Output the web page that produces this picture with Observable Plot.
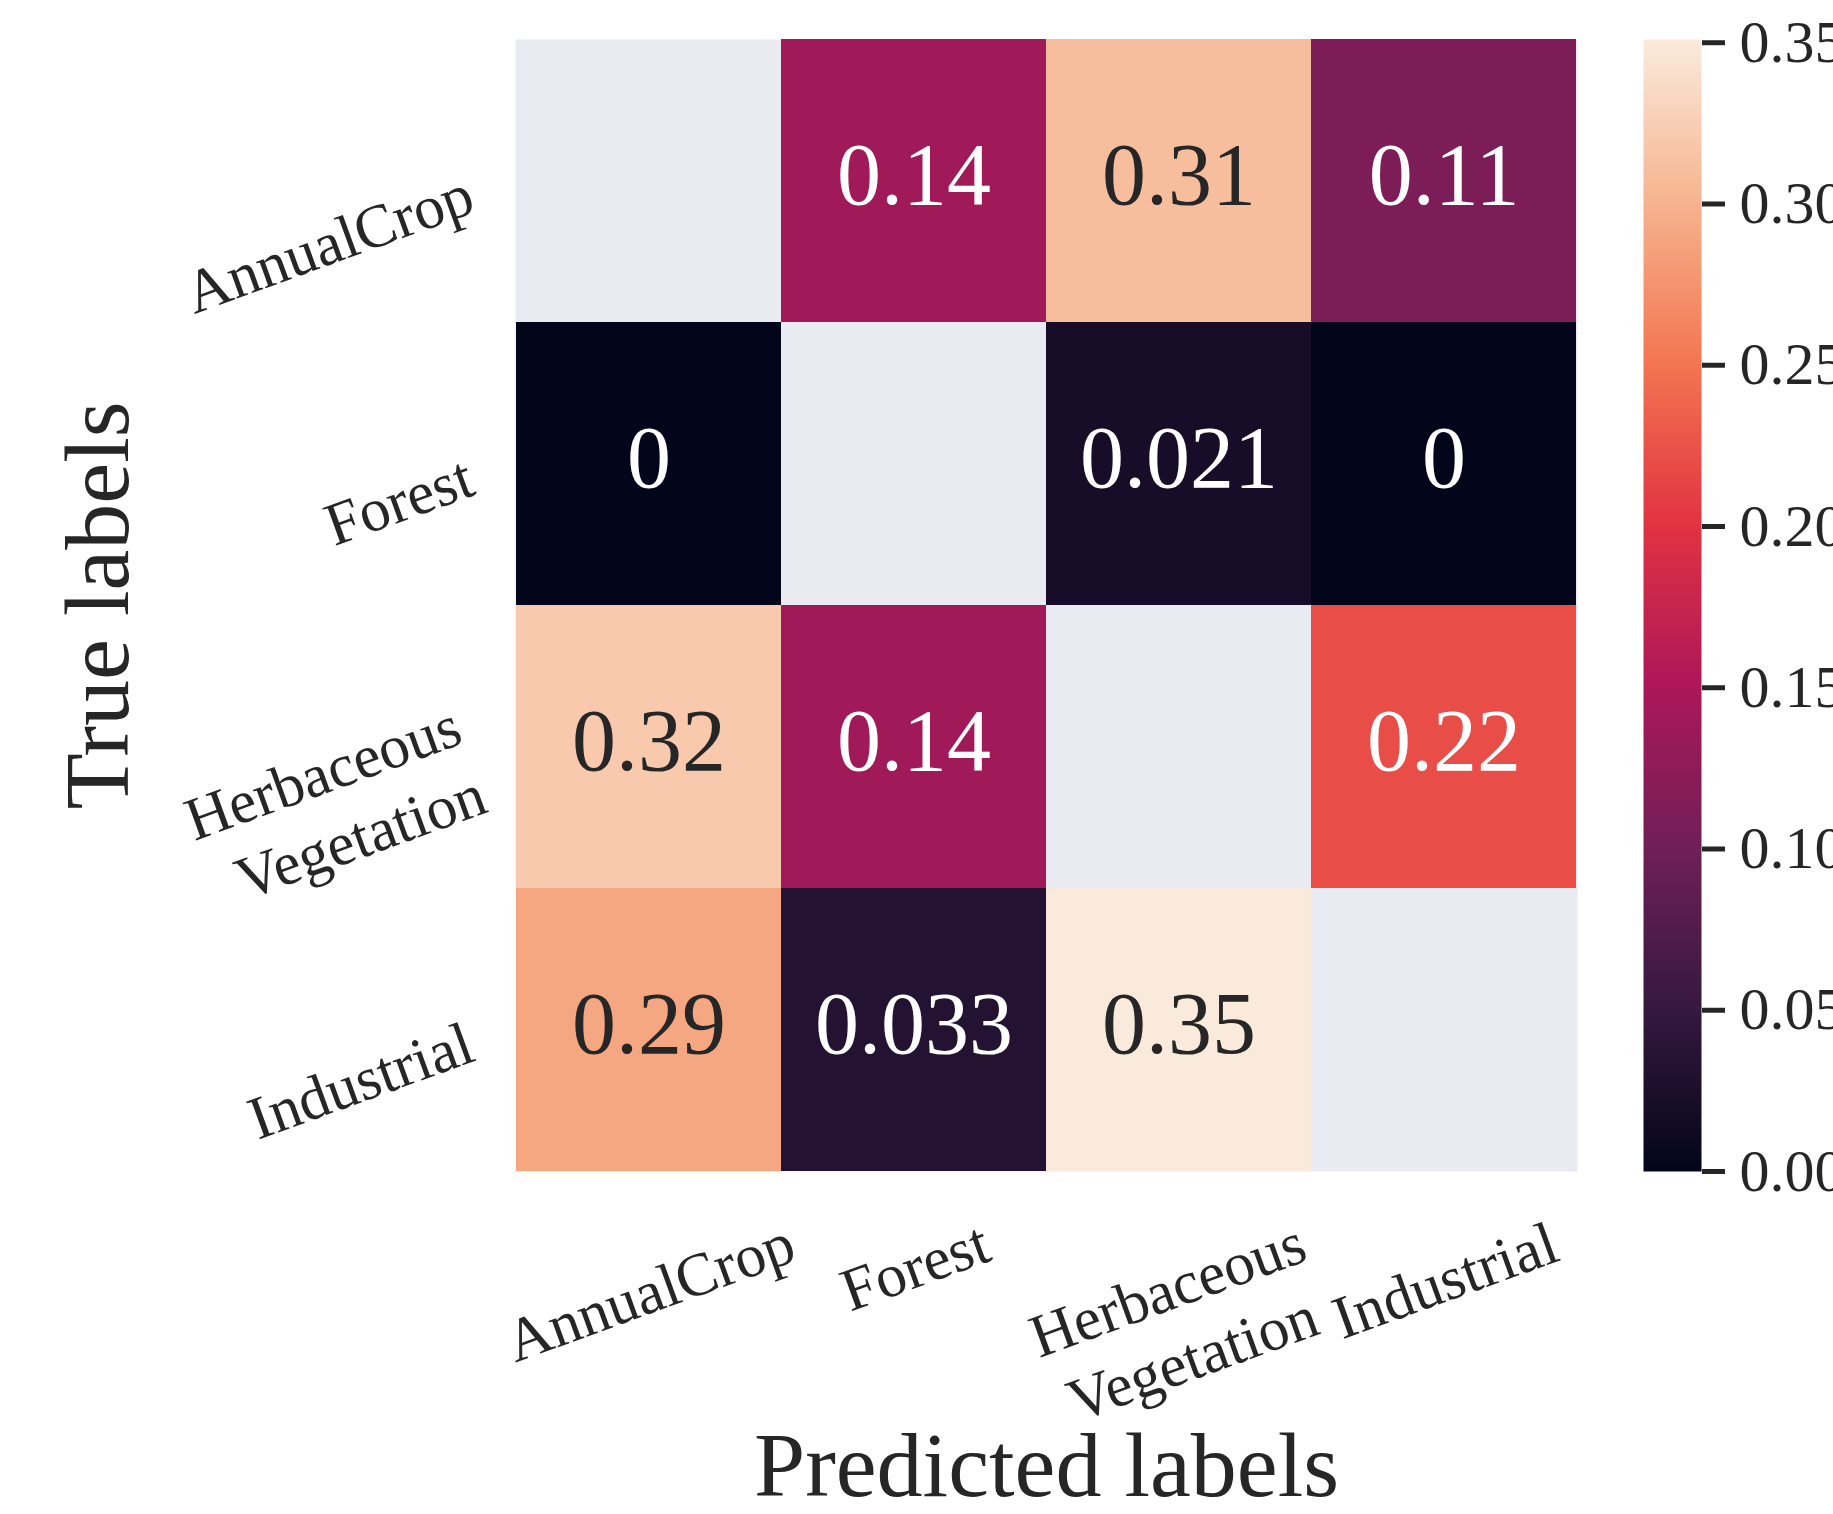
<!DOCTYPE html>
<html>
<head>
<meta charset="utf-8">
<script src="https://cdn.jsdelivr.net/npm/d3@7"></script>
<script src="https://cdn.jsdelivr.net/npm/@observablehq/plot@0.6"></script>
<style>
  html, body { margin: 0; padding: 0; background: white; overflow: hidden; }
  #wrap { position: relative; width: 1833px; height: 1514px; }
  #main, #cbar { position: absolute; top: 0; }
  #main { left: 0; }
  #cbar { left: 1643px; }
</style>
</head>
<body>
<div id="wrap"><div id="main"></div><div id="cbar"></div></div>
<script>
// ---------------- data ----------------
const categories = ["AnnualCrop", "Forest", "Herbaceous Vegetation", "Industrial"];
const tickLabels = ["AnnualCrop", "Forest", "Herbaceous\nVegetation", "Industrial"];
// rows = true label, columns = predicted label (diagonal masked)
const rowAnnualCrop = [null, 0.14, 0.31, 0.11];
const rowForest = [0, null, 0.021, 0];
const rowHerbaceous = [0.32, 0.14, null, 0.22];
const rowIndustrial = [0.29, 0.033, 0.35, null];
const colorbarTicks = [0, 0.05, 0.10, 0.15, 0.20, 0.25, 0.30, 0.35];
const colorDomain = [0, 0.351];
const rocketStops = ["#03051A", "#35193E", "#701F57", "#AD1759", "#E13342", "#F37651", "#F6B48F", "#FAEBDD"];

// ---------------- setup ----------------
const rows = [rowAnnualCrop, rowForest, rowHerbaceous, rowIndustrial];
const cells = [];
rows.forEach((r, i) => r.forEach((v, j) => {
  if (v != null) cells.push({ truth: categories[i], pred: categories[j], value: v });
}));

const FONT = '"Liberation Serif", "Times New Roman", serif';
const INK = "#262626";
const rocket = d3.piecewise(d3.interpolateRgb, rocketStops);
const colorOpts = { type: "linear", domain: colorDomain, interpolate: rocket };
const colorScale = Plot.scale({ color: colorOpts });

function relLum(c) {
  const rgb = d3.rgb(c);
  const f = v => { v /= 255; return v <= 0.03928 ? v / 12.92 : Math.pow((v + 0.055) / 1.055, 2.4); };
  return 0.2126 * f(rgb.r) + 0.7152 * f(rgb.g) + 0.0722 * f(rgb.b);
}
const fmt = d3.format(".2~g");

const W = 1833, H = 1514, mL = 515, mR = 256, mT = 39, mB = 343;
const tickFont = 61, annotFont = 88, titleFont = 92;
const rot = 20 * Math.PI / 180;

// measure text to centre rotated x tick labels like matplotlib's bbox centering
const ctx = document.createElement("canvas").getContext("2d");
ctx.font = `${tickFont}px ${FONT}`;
const xLabelMarks = categories.map((c, i) => {
  const lines = tickLabels[i].split("\n");
  const L = Math.max(...lines.map(s => ctx.measureText(s).width));
  const h = ((lines.length - 1) * 1.2 + 0.7) * tickFont;
  const dy = 46 + (L * Math.sin(rot) + h * Math.cos(rot)) / 2;
  return Plot.text([c], {
    x: d => d, frameAnchor: "bottom", dy,
    text: () => tickLabels[i],
    rotate: -20, textAnchor: "middle", lineAnchor: "middle", lineHeight: 1.2,
    fontSize: tickFont, fill: INK
  });
});

const main = Plot.plot({
  width: W, height: H,
  marginLeft: mL, marginRight: mR, marginTop: mT, marginBottom: mB,
  x: { type: "band", domain: categories, padding: 0, axis: null },
  y: { type: "band", domain: categories, padding: 0, axis: null },
  color: colorOpts,
  style: { fontFamily: FONT, color: INK, background: "white", overflow: "visible" },
  marks: [
    Plot.frame({ fill: "#EAEAF2", stroke: "none" }),
    Plot.cell(cells, { x: "pred", y: "truth", fill: "value", inset: 0 }),
    Plot.text(cells, {
      x: "pred", y: "truth", text: d => fmt(d.value),
      fill: d => relLum(colorScale.apply(d.value)) > 0.408 ? INK : "white",
      fontSize: annotFont, lineAnchor: "middle", dy: -5
    }),
    Plot.text(categories, {
      y: d => d, text: (d, i) => tickLabels[i], frameAnchor: "left",
      dx: -46, dy: 8, textAnchor: "end", lineAnchor: "middle", rotate: -20,
      lineHeight: 1.2, fontSize: tickFont, fill: INK
    }),
    ...xLabelMarks,
    Plot.text(["True labels"], {
      frameAnchor: "left", dx: -417, rotate: -90, textAnchor: "middle", lineAnchor: "middle",
      fontSize: titleFont, fill: INK
    }),
    Plot.text(["Predicted labels"], {
      frameAnchor: "bottom", dy: 295, textAnchor: "middle", lineAnchor: "middle",
      fontSize: titleFont, fill: INK
    })
  ]
});
document.getElementById("main").appendChild(main);

const cbar = Plot.plot({
  width: 190, height: H,
  marginLeft: 0, marginRight: 132, marginTop: mT, marginBottom: mB,
  x: { domain: [0, 1], axis: null },
  y: { domain: colorDomain, axis: null },
  color: colorOpts,
  style: { fontFamily: FONT, color: INK, background: "transparent", overflow: "visible" },
  marks: [
    Plot.raster({ fill: (x, y) => y, x1: 0, x2: 1, y1: colorDomain[0], y2: colorDomain[1], width: 2, height: 600, imageRendering: "auto" }),
    Plot.axisY(colorbarTicks, {
      anchor: "right", tickSize: 23, tickPadding: 15, strokeWidth: 5,
      tickFormat: d3.format(".2f"), fontSize: 60, label: null
    })
  ]
});
document.getElementById("cbar").appendChild(cbar);
</script>
</body>
</html>
